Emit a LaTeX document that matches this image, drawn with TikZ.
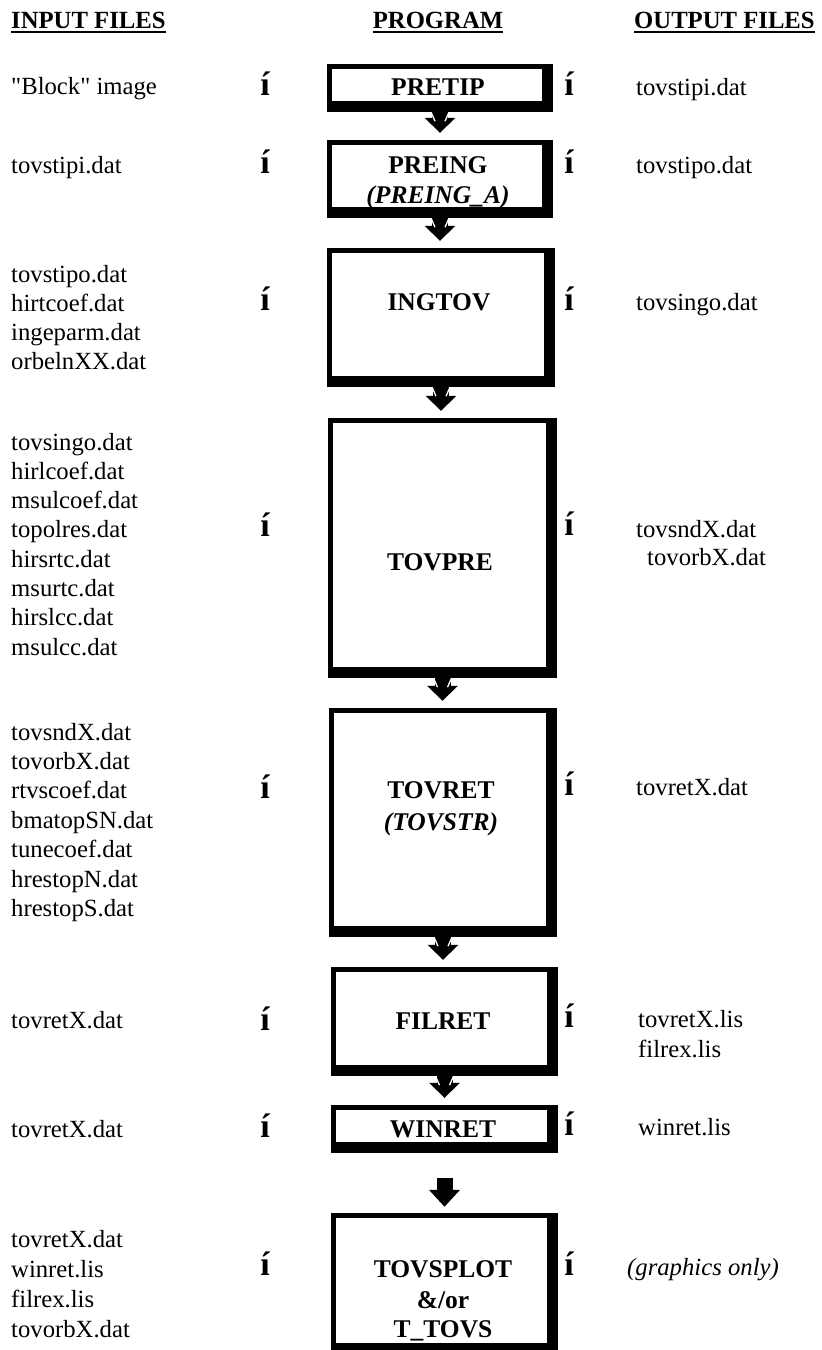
\documentclass[tikz,border=0pt]{standalone}
\usepackage{fontspec}
\setmainfont{Liberation Serif}
\newfontfamily\rawserif{Liberation Serif}[Ligatures=TeXOff]
\usetikzlibrary{arrows.meta,fit}
\newcommand\progframe[5]{%
  \node[progbox, fit={(#2,#3) (#4,#5)}] (#1) {};
  \fill[white] ([xshift=5.5pt,yshift=-5pt]#1.north west) rectangle ([xshift=-11pt,yshift=11pt]#1.south east);
}
\begin{document}
\begin{tikzpicture}[x=1pt,y=-1pt,
  ftxt/.style={inner sep=0pt, anchor=base west, font=\fontsize{24.7}{29}\selectfont},
  hdr/.style={inner sep=0pt, font=\fontsize{24.7}{29}\selectfont\bfseries},
  lbl/.style={inner sep=0pt, anchor=base, font=\fontsize{25.5}{29}\selectfont\bfseries},
  ilbl/.style={inner sep=0pt, anchor=base, font=\fontsize{25.5}{29}\selectfont\bfseries\itshape},
  flowmark/.style={inner sep=0pt, anchor=base, font=\fontsize{34}{36}\selectfont\bfseries},
  progbox/.style={fill=black, draw=none, inner sep=0pt},
  blockarrow/.style={line width=16pt, -{Triangle[width=30pt,length=15pt]}},
  slit/.style={white, line width=1.3pt},
  uline/.style={line width=2pt}
]
\useasboundingbox (0,0) rectangle (822,1350);
\clip (0,0) rectangle (822,1350);
\fill[white] (0,0) rectangle (822,1350);

% headers
\node[hdr, anchor=base west] (hin) at (11,28) {INPUT FILES};
\node[hdr, anchor=base] (hprog) at (438,28) {PROGRAM};
\node[hdr, anchor=base west] (hout) at (634,28) {OUTPUT FILES};
\draw[uline] ([yshift=-4pt]hin.base west) -- ([yshift=-4pt]hin.base east);
\draw[uline] ([yshift=-4pt]hprog.base west) -- ([yshift=-4pt]hprog.base east);
\draw[uline] ([yshift=-4pt]hout.base west) -- ([yshift=-4pt]hout.base east);

% program boxes
\progframe{pretip}{327}{64}{553}{112}
\progframe{preing}{327}{140}{553}{218}
\progframe{ingtov}{327}{248}{555}{387}
\progframe{tovpre}{328}{418}{557}{678}
\progframe{tovret}{329}{708}{557}{937}
\progframe{filret}{331}{967}{558}{1076}
\progframe{winret}{331}{1105}{558}{1153}
\progframe{tovsplot}{331}{1213}{558}{1354}

% box labels
\node[lbl] (lpretip) at (438,95) {PRETIP};
\node[lbl] (lpreing) at (438,173) {PREING};
\node[ilbl] (lpreinga) at (438,203) {(PREING\_A)};
\node[lbl] (lingtov) at (439,310) {INGTOV};
\node[lbl] (ltovpre) at (440,570) {TOVPRE};
\node[lbl] (ltovret) at (441,798) {TOVRET};
\node[ilbl] (ltovstr) at (441,830) {(TOVSTR)};
\node[lbl] (lfilret) at (443,1029) {FILRET};
\node[lbl] (lwinret) at (443,1137) {WINRET};
\node[lbl] (ltovsplot) at (443,1277) {TOVSPLOT};
\node[lbl] (landor) at (443,1308) {\&/or};
\node[lbl] (ltovs) at (443,1337) {T\_TOVS};

% block arrows between boxes
\foreach \a/\b in {pretip/preing, preing/ingtov, ingtov/tovpre, tovpre/tovret, tovret/filret, filret/winret}{
  \draw[blockarrow] (\a.south) -- ([yshift=7pt]\a.south |- \b.north);
  \draw[slit] ([xshift=-9pt]\a.south) -- ++(4,9);
  \draw[slit] ([xshift=9pt]\a.south) -- ++(-4,9);
}
\draw[line width=16pt, -{Triangle[width=30pt,length=17pt]}] ([yshift=-25pt]winret.south) -- ([yshift=6pt]winret.south |- tovsplot.north);

% flow marks (left and right)
\node[flowmark] (ml1) at (265,95) {í};
\node[flowmark] (ml2) at (265,173) {í};
\node[flowmark] (ml3) at (265,310) {í};
\node[flowmark] (ml4) at (265,536) {í};
\node[flowmark] (ml5) at (265,798) {í};
\node[flowmark] (ml6) at (265,1030) {í};
\node[flowmark] (ml7) at (265,1137) {í};
\node[flowmark] (ml8) at (265,1275) {í};
\node[flowmark] (mr1) at (569,95) {í};
\node[flowmark] (mr2) at (569,173) {í};
\node[flowmark] (mr3) at (569,310) {í};
\node[flowmark] (mr4) at (569,535) {í};
\node[flowmark] (mr5) at (569,795) {í};
\node[flowmark] (mr6) at (569,1027) {í};
\node[flowmark] (mr7) at (569,1135) {í};
\node[flowmark] (mr8) at (569,1275) {í};

% input files
\node[ftxt] (in1) at (11,94) {{\rawserif "}Block{\rawserif "} image};
\node[ftxt] (in2) at (11,173) {tovstipi.dat};
\foreach \t [count=\i] in {tovstipo.dat, hirtcoef.dat, ingeparm.dat, orbelnXX.dat}
  \node[ftxt] (inC\i) at (11,{282+29.3*(\i-1)}) {\t};
\foreach \t [count=\i] in {tovsingo.dat, hirlcoef.dat, msulcoef.dat, topolres.dat, hirsrtc.dat, msurtc.dat, hirslcc.dat, msulcc.dat}
  \node[ftxt] (inD\i) at (11,{450+29.3*(\i-1)}) {\t};
\foreach \t [count=\i] in {tovsndX.dat, tovorbX.dat, rtvscoef.dat, bmatopSN.dat, tunecoef.dat, hrestopN.dat, hrestopS.dat}
  \node[ftxt] (inE\i) at (11,{740+29.4*(\i-1)}) {\t};
\node[ftxt] (inF) at (11,1028) {tovretX.dat};
\node[ftxt] (inG) at (11,1137) {tovretX.dat};
\foreach \t [count=\i] in {tovretX.dat, winret.lis, filrex.lis, tovorbX.dat}
  \node[ftxt] (inH\i) at (11,{1247+30*(\i-1)}) {\t};

% output files
\node[ftxt] (out1) at (636,95) {tovstipi.dat};
\node[ftxt] (out2) at (636,173) {tovstipo.dat};
\node[ftxt] (out3) at (636,310) {tovsingo.dat};
\node[ftxt] (out4a) at (636,537) {tovsndX.dat};
\node[ftxt] (out4b) at (647,565) {tovorbX.dat};
\node[ftxt] (out5) at (636,795) {tovretX.dat};
\node[ftxt] (out6a) at (638,1027) {tovretX.lis};
\node[ftxt] (out6b) at (638,1057) {filrex.lis};
\node[ftxt] (out7) at (638,1135) {winret.lis};
\node[ftxt, font=\fontsize{24.7}{29}\selectfont\itshape] (out8) at (627,1275) {(graphics only)};
\end{tikzpicture}
\end{document}
